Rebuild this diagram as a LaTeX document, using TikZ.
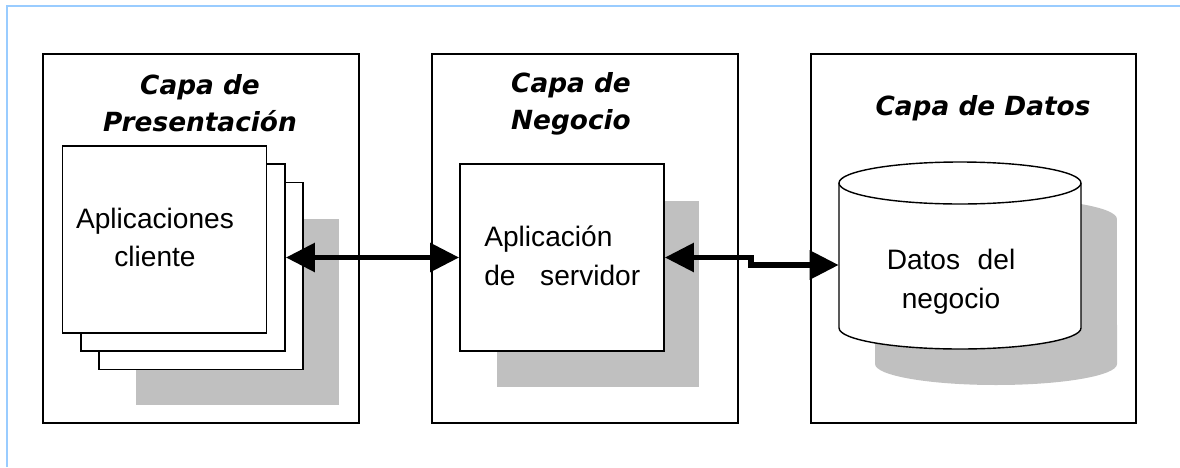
\documentclass[tikz,border=0pt]{standalone}
\usepackage{fontspec}
\setmainfont{Liberation Sans}
\newfontfamily\titlefont{DejaVu Sans Bold Oblique}
\usepackage{tikz}
\usetikzlibrary{arrows.meta, positioning}
\definecolor{framebl}{RGB}{153,204,255}
\definecolor{shadowgray}{RGB}{192,192,192}
\tikzstyle{capa} = [rectangle, draw=black, line width=1pt, minimum height=7.38cm]
\tikzstyle{capatitle} = [font=\titlefont\fontsize{15}{21}\selectfont, align=center]
\tikzstyle{sheet} = [rectangle, draw=black, line width=1pt, fill=white, minimum width=4.08cm, minimum height=3.74cm]
\tikzstyle{shadowbox} = [rectangle, fill=shadowgray, minimum width=4.06cm, minimum height=3.72cm]
\tikzstyle{txt} = [font=\fontsize{16}{22}\selectfont, align=center]
\tikzstyle{link} = [line width=3.2pt, {Triangle[length=0.58cm,width=0.56cm]}-{Triangle[length=0.58cm,width=0.56cm]}]

\begin{document}
\begin{tikzpicture}[x=0.02cm, y=-0.02cm]
    \useasboundingbox (0,0) rectangle (1180,467);
    \draw[framebl, line width=1.2pt] (7,467) -- (7,6) -- (1180,6);

    % capas
    \node[capa, minimum width=6.32cm] (pres) at (201,238.5) {};
    \node[capa, minimum width=6.12cm] (neg) at (585,238.5) {};
    \node[capa, minimum width=6.5cm] (dat) at (973.5,238.5) {};
    \node[capatitle] (tpres) at (200,103.5) {Capa de\\Presentación};
    \node[capatitle] (tneg) at (571,103.5) {Capa de\\Negocio};
    \node[capatitle] (tdat) at (983,108) {Capa de Datos};

    % aplicaciones cliente
    \node[shadowbox] (sh1) at (237.5,312) {};
    \node[sheet] (page3) at (201,276) {};
    \node[sheet] (page2) at (183,257.5) {};
    \node[sheet] (page1) at (164.5,239.5) {};
    \node[txt] (cli) at (155,237.5) {Aplicaciones\\cliente};

    % servidor
    \node[shadowbox] (sh2) at (598,294) {};
    \node[sheet] (srv) at (562,257.5) {};
    \node[txt, align=left, anchor=west, inner sep=0pt] (srvtxt) at (484,256) {Aplicación\\de\hspace{14pt}servidor};

    % datos
    \fill[shadowgray] (875,364) -- (875,219) arc[start angle=180, end angle=0, x radius=2.42cm, y radius=0.42cm]
        -- (1117,364) arc[start angle=0, end angle=-180, x radius=2.42cm, y radius=0.42cm] -- cycle;
    \draw[fill=white, line width=0.8pt] (839,328) -- (839,183) arc[start angle=180, end angle=0, x radius=2.42cm, y radius=0.42cm]
        -- (1081,328) arc[start angle=0, end angle=-180, x radius=2.42cm, y radius=0.42cm] -- cycle;
    \draw[line width=0.8pt] (839,183) arc[start angle=180, end angle=360, x radius=2.42cm, y radius=0.42cm];
    \node[minimum width=4.84cm, minimum height=2.9cm, inner sep=0pt] (cyl) at (960,255.5) {};
    \node[txt] (datos) at (951,282) {Datos\hspace{10pt}del\\negocio};

    \draw[link] (page2) -- (srv);
    \draw[link] (srv.east) -- ++(86,0) |- ([yshift=-0.19cm]cyl.west);
\end{tikzpicture}
\end{document}
